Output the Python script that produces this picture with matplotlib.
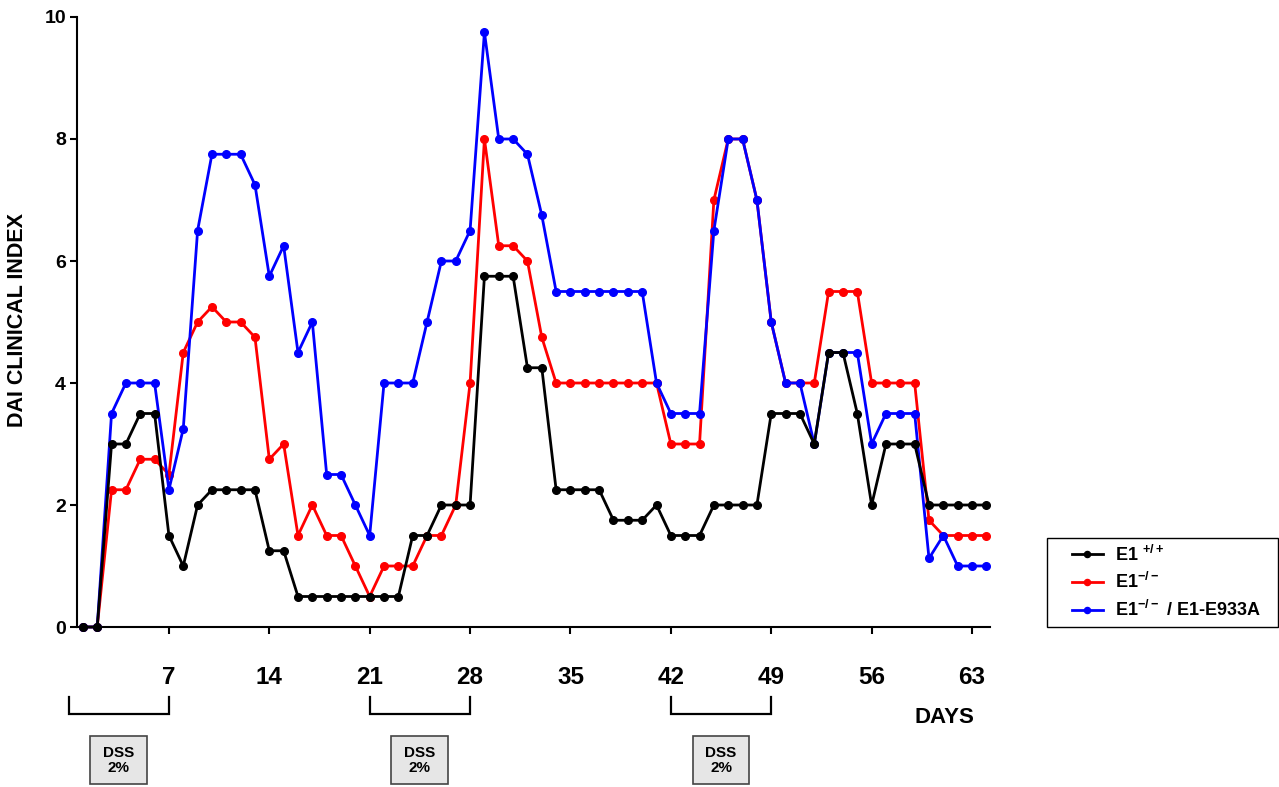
import matplotlib
matplotlib.use("Agg")
import matplotlib.pyplot as plt
from matplotlib.patches import Rectangle

plt.rcParams['font.family'] = ['Liberation Sans', 'DejaVu Sans']
plt.rcParams['font.weight'] = 'bold'
plt.rcParams['mathtext.fontset'] = 'custom'
plt.rcParams['mathtext.rm'] = 'Liberation Sans:bold'
plt.rcParams['mathtext.bf'] = 'Liberation Sans:bold'
plt.rcParams['mathtext.default'] = 'bf'

# jours de mesure
days = list(range(1, 65))

# DAI par groupe
e1_wt = [0, 0, 3, 3, 3.5, 3.5, 1.5, 1, 2, 2.25, 2.25, 2.25, 2.25, 1.25, 1.25, 0.5,
         0.5, 0.5, 0.5, 0.5, 0.5, 0.5, 0.5, 1.5, 1.5, 2, 2, 2, 5.75, 5.75, 5.75, 4.25,
         4.25, 2.25, 2.25, 2.25, 2.25, 1.75, 1.75, 1.75, 2, 1.5, 1.5, 1.5, 2, 2, 2, 2,
         3.5, 3.5, 3.5, 3, 4.5, 4.5, 3.5, 2, 3, 3, 3, 2, 2, 2, 2, 2]
e1_ko = [0, 0, 2.25, 2.25, 2.75, 2.75, 2.5, 4.5, 5, 5.25, 5, 5, 4.75, 2.75, 3, 1.5,
         2, 1.5, 1.5, 1, 0.5, 1, 1, 1, 1.5, 1.5, 2, 4, 8, 6.25, 6.25, 6,
         4.75, 4, 4, 4, 4, 4, 4, 4, 4, 3, 3, 3, 7, 8, 8, 7,
         5, 4, 4, 4, 5.5, 5.5, 5.5, 4, 4, 4, 4, 1.75, 1.5, 1.5, 1.5, 1.5]
e1_mut = [0, 0, 3.5, 4, 4, 4, 2.25, 3.25, 6.5, 7.75, 7.75, 7.75, 7.25, 5.75, 6.25, 4.5,
          5, 2.5, 2.5, 2, 1.5, 4, 4, 4, 5, 6, 6, 6.5, 9.75, 8, 8, 7.75,
          6.75, 5.5, 5.5, 5.5, 5.5, 5.5, 5.5, 5.5, 4, 3.5, 3.5, 3.5, 6.5, 8, 8, 7,
          5, 4, 4, 3, 4.5, 4.5, 4.5, 3, 3.5, 3.5, 3.5, 1.125, 1.5, 1, 1, 1]

labels = ['E1 $^{+/+}$', 'E1$^{-/-}$', 'E1$^{-/-}$ / E1-E933A']
xticks = [7, 14, 21, 28, 35, 42, 49, 56, 63]
yticks = [0, 2, 4, 6, 8, 10]

# periodes DSS 2%
dss_periods = [(0, 7), (21, 28), (42, 49)]

fig = plt.figure(figsize=(12.79, 7.87), dpi=100)
ax = fig.add_axes([0.0602, 0.2033, 0.7138, 0.7751])

l_ko, = ax.plot(days, e1_ko, color='#ff0000', lw=2.0, marker='o', ms=5.5, zorder=3, clip_on=False)
l_mut, = ax.plot(days, e1_mut, color='#0000ff', lw=2.0, marker='o', ms=5.5, zorder=4, clip_on=False)
l_wt, = ax.plot(days, e1_wt, color='#000000', lw=2.0, marker='o', ms=5.5, zorder=5, clip_on=False)

ax.set_xlim(0.59, 64.25)
ax.set_ylim(0, 10)
ax.set_xticks(xticks)
ax.set_yticks(yticks)
ax.tick_params(axis='x', labelsize=17.5, length=5, width=1.5, pad=23)
ax.tick_params(axis='y', labelsize=14, length=5, width=1.5, pad=3)
for s in ['top', 'right']:
    ax.spines[s].set_visible(False)
for s in ['left', 'bottom']:
    ax.spines[s].set_linewidth(1.5)

fig.text(18 / 1279, 1 - 320 / 787, 'DAI CLINICAL INDEX', rotation=90,
         ha='center', va='center', fontsize=15.5, fontweight='bold')
ax.text(61.1, -1.49, 'DAYS', ha='center', va='center', fontsize=16,
        fontweight='bold', clip_on=False)

# crochets + boites DSS
for a, b in dss_periods:
    ax.plot([a, a, b, b], [-1.15, -1.42, -1.42, -1.15], color='black', lw=1.6,
            clip_on=False, solid_joinstyle='miter')
    mid = (a + b) / 2
    ax.add_patch(Rectangle((mid - 1.98, -2.58), 3.96, 0.79, facecolor='#e6e6e6',
                           edgecolor='#444444', lw=1.2, clip_on=False))
    ax.text(mid, -2.19, 'DSS\n2%', ha='center', va='center', fontsize=11,
            fontweight='bold', linespacing=1.1, clip_on=False)

# legende : cadre dessine a part pour avoir la bonne largeur
leg = ax.legend([l_wt, l_ko, l_mut], labels, loc='lower left',
                bbox_to_anchor=(1062 / 1279, 1 - 630 / 787), bbox_transform=fig.transFigure,
                borderaxespad=0, fontsize=13, frameon=False,
                handlelength=1.7, handletextpad=0.7,
                labelspacing=0.42, borderpad=0.55, numpoints=1, markerscale=0.8)
fig.patches.append(Rectangle((1047 / 1279, 1 - 627 / 787), 231 / 1279, 89 / 787,
                             transform=fig.transFigure, fill=False,
                             edgecolor='black', lw=1.0))

fig.savefig('out.png', dpi=100)
